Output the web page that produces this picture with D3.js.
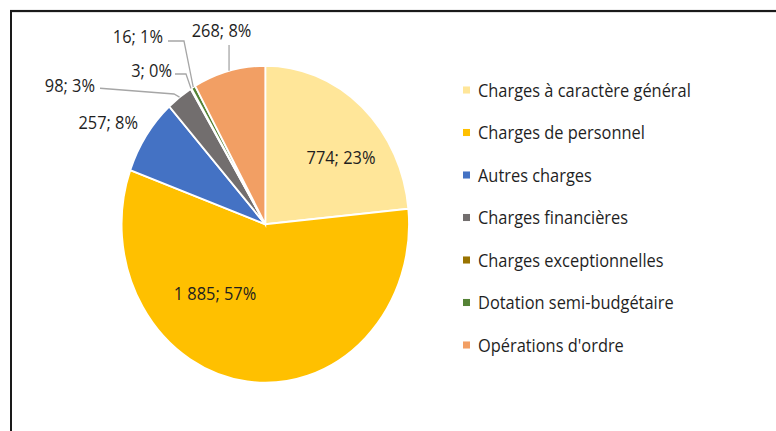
<!DOCTYPE html>
<html>
<head>
<meta charset="utf-8">
<script src="https://cdn.jsdelivr.net/npm/d3@7"></script>
<style>
  html, body { margin: 0; padding: 0; background: #fff; }
  svg { display: block; }
</style>
</head>
<body>
<svg id="chart"></svg>
<script>

const categories = [
  "Charges à caractère général",
  "Charges de personnel",
  "Autres charges",
  "Charges financières",
  "Charges exceptionnelles",
  "Dotation semi-budgétaire",
  "Opérations d'ordre"
]
const values = [774, 1885, 257, 98, 3, 16, 268]
const valueLabels = ["774", "1 885", "257", "98", "3", "16", "268"]
const percentLabels = ["23%", "57%", "8%", "3%", "0%", "1%", "8%"]

const colors = ["#FFE699", "#FFC000", "#4472C4", "#726E6E", "#997300", "#548235", "#F29F64"]

// the picture is stretched vertically, so draw in a squashed viewBox
const width = 776
const height = 431
const stretch = 1.103
const vbHeight = height / stretch

const cx = 265.3
const cy = 203.3
const radius = 143.7

const fontSize = 16.4

// label placement, offsets from the pie centre (Excel places them by hand)
const labelLayout = [
  { x: 75.7,   y: -60.1,  anchor: "middle" },
  { x: -50.3,  y: 62.6,   anchor: "middle" },
  { x: -127.3, y: -92.7,  anchor: "end" },
  { x: -170.3, y: -126.2, anchor: "end", leader: [[-165.3, -123.3], [-91.3, -118.1]] },
  { x: -93.3,  y: -139.8, anchor: "end", leader: [[-90.3, -136.2], [-79.3, -136.2]] },
  { x: -102.3, y: -169.8, anchor: "end", leader: [[-97.3, -166.1], [-81.3, -166.1]] },
  { x: -43.8,  y: -176.1, anchor: "middle", leader: [[-36.2, -162.5]] }
]

const svg = d3.select("#chart")
              .attr("width", width)
              .attr("height", height)
              .attr("viewBox", [0, 0, width, vbHeight])
              .attr("preserveAspectRatio", "none")
              .attr("font-family", "'Open Sans', sans-serif")

// chart frame
svg.append("rect")
   .attr("x", 11)
   .attr("y", 10)
   .attr("width", 900)
   .attr("height", 600)
   .attr("fill", "none")
   .attr("stroke", "#1a1a1a")
   .attr("stroke-width", 2)

const pie = d3.pie()
              .sort(null)
              .value(d => d)

const arc = d3.arc()
              .innerRadius(0)
              .outerRadius(radius)

const arcs = pie(values)

const g = svg.append("g")
             .attr("transform", `translate(${cx},${cy})`)

g.selectAll(".slice")
 .data(arcs)
 .enter()
 .append("path")
 .attr("class", "slice")
 .attr("d", arc)
 .attr("fill", (d, i) => colors[i])
 .attr("stroke", "#fff")
 .attr("stroke-width", 1.8)

// leader lines from the slice edge to the label
const edgeArc = d3.arc().innerRadius(radius).outerRadius(radius)

g.selectAll(".leader")
 .data(arcs.filter((d, i) => labelLayout[i].leader))
 .enter()
 .append("polyline")
 .attr("class", "leader")
 .attr("points", d => {
   const lay = labelLayout[d.index]
   const edge = edgeArc.centroid(d)
   const pts = [edge].concat(lay.leader.slice().reverse())
   if (lay.leader.length == 1) pts[1] = [edge[0], lay.leader[0][1]]
   return pts.map(p => p.join(",")).join(" ")
 })
 .attr("fill", "none")
 .attr("stroke", "#a6a6a6")
 .attr("stroke-width", 1.3)

g.selectAll(".label")
 .data(arcs)
 .enter()
 .append("text")
 .attr("class", "label")
 .attr("x", (d, i) => labelLayout[i].x)
 .attr("y", (d, i) => labelLayout[i].y)
 .attr("dy", "0.36em")
 .attr("text-anchor", (d, i) => labelLayout[i].anchor)
 .attr("font-size", fontSize)
 .attr("fill", "#1f1f1f")
 .text((d, i) => valueLabels[i] + "; " + percentLabels[i])

// legend
const legend = svg.append("g")
                  .attr("transform", "translate(463,81.6)")

const rows = legend.selectAll(".row")
                   .data(categories)
                   .enter()
                   .append("g")
                   .attr("class", "row")
                   .attr("transform", (d, i) => `translate(0,${i * 38.53})`)

rows.append("rect")
    .attr("x", 0)
    .attr("y", -3.2)
    .attr("width", 7)
    .attr("height", 6.4)
    .attr("fill", (d, i) => colors[i])

rows.append("text")
    .attr("x", 15)
    .attr("dy", "0.36em")
    .attr("font-size", fontSize)
    .attr("fill", "#1f1f1f")
    .text(d => d)

</script>
</body>
</html>
